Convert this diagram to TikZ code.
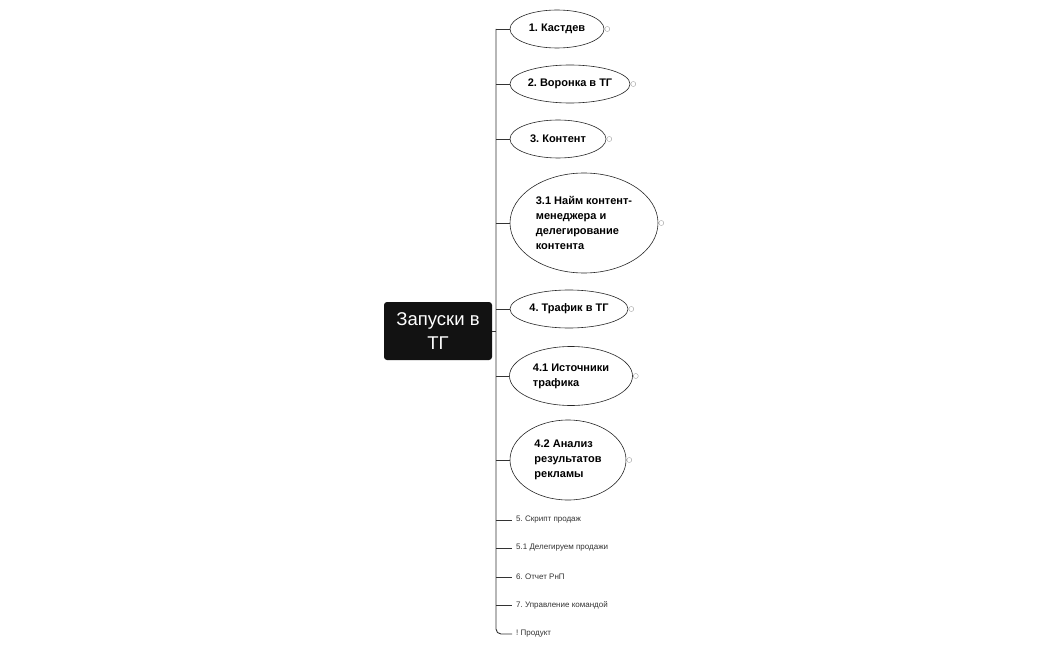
\documentclass[tikz,border=0pt]{standalone}
\usepackage{fontspec}
\setmainfont{Liberation Sans}
\usetikzlibrary{shapes.geometric}
\begin{document}
\frenchspacing
\begin{tikzpicture}[x=1pt,y=-1pt,
  topic/.style={ellipse,draw=black!85,line width=0.6pt,inner sep=0pt,font=\bfseries\fontsize{11}{15}\selectfont\frenchspacing,align=left},
  small/.style={anchor=west,font=\fontsize{8}{10}\selectfont\frenchspacing,text=black!80,inner sep=0pt},
  conn/.style={draw=black!80,line width=0.9pt},
  knob/.style={circle,draw=black!45,line width=0.3pt,minimum size=5pt,inner sep=0pt}]
\useasboundingbox (0,0) rectangle (1050,650);
\node[fill=black!93,rounded corners=3pt,minimum width=108pt,minimum height=58pt,text=white,align=center,font=\fontsize{18.5}{24}\selectfont] (root) at (438,331) {Запуски в\\ТГ};
\coordinate (top) at (496,29);
\coordinate (rj) at (496,331);
\node[topic,minimum width=94pt,minimum height=38pt] (n1) at (557,29) {\raisebox{-1.5pt}{1. Кастдев}};
\node[topic,minimum width=120pt,minimum height=38pt] (n2) at (570,84) {\raisebox{-1.5pt}{2. Воронка в ТГ}};
\node[topic,minimum width=96pt,minimum height=38pt] (n3) at (558,139) {\raisebox{-1.5pt}{3. Контент}};
\node[topic,minimum width=148pt,minimum height=100pt] (n31) at (584,223) {3.1 Найм контент-\\менеджера и\\делегирование\\контента};
\node[topic,minimum width=118pt,minimum height=38pt] (n4) at (569,309) {\raisebox{-1.5pt}{4. Трафик в ТГ}};
\node[topic,minimum width=123pt,minimum height=59pt] (n41) at (571,376) {4.1 Источники\\трафика};
\node[topic,minimum width=116pt,minimum height=80pt] (n42) at (568,460) {4.2 Анализ\\результатов\\рекламы};
\node[small] (s1) at (516,520) {5. Скрипт продаж};
\node[small] (s2) at (516,548) {5.1 Делегируем продажи};
\node[small] (s3) at (516,577) {6. Отчет РнП};
\node[small] (s4) at (516,605) {7. Управление командой};
\node[small] (s5) at (516,634) {! Продукт};
\foreach \n in {n1,n2,n3,n31,n4,n41,n42}{
  \node[knob] (k\n) at ([xshift=3pt]\n.east) {};
}
\draw[conn] (root.east |- rj) -- (rj);
\draw[conn,rounded corners=5pt] (top) -- (496,634) -- ([xshift=-4pt]s5.west);
\draw[conn] (top) -- (n1.west);
\draw[conn] (496,84) -- (n2.west);
\draw[conn] (496,139) -- (n3.west);
\draw[conn] (496,223) -- (n31.west);
\draw[conn] (496,309) -- (n4.west);
\draw[conn] (496,376) -- (n41.west);
\draw[conn] (496,460) -- (n42.west);
\draw[conn] (496,520) -- ([xshift=-4pt]s1.west);
\draw[conn] (496,548) -- ([xshift=-4pt]s2.west);
\draw[conn] (496,577) -- ([xshift=-4pt]s3.west);
\draw[conn] (496,605) -- ([xshift=-4pt]s4.west);
\end{tikzpicture}
\end{document}
